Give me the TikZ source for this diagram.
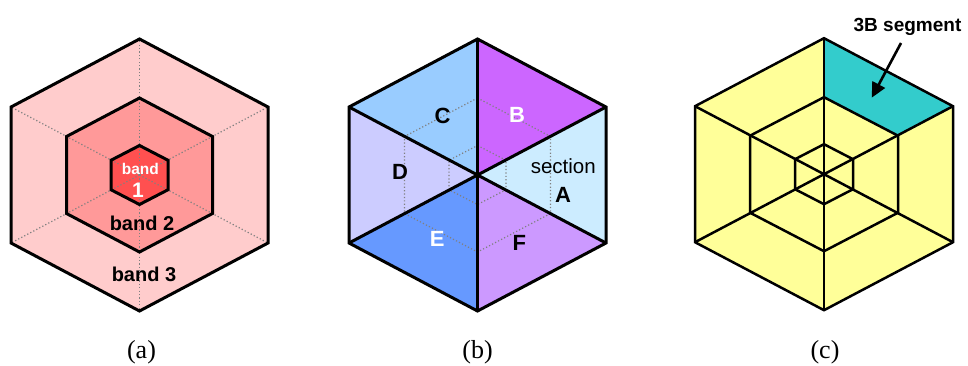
\documentclass[tikz,border=0pt]{standalone}
\usepackage{fontspec}
\setmainfont{Liberation Serif}
\setsansfont{Liberation Sans}
\usetikzlibrary{arrows.meta}
\definecolor{bandthree}{HTML}{FFCCCC}
\definecolor{bandtwo}{HTML}{FF9999}
\definecolor{bandone}{HTML}{FF5050}
\definecolor{secA}{HTML}{CCECFF}
\definecolor{secB}{HTML}{CC66FF}
\definecolor{secC}{HTML}{99CCFF}
\definecolor{secD}{HTML}{CCCCFF}
\definecolor{secE}{HTML}{6699FF}
\definecolor{secF}{HTML}{CC99FF}
\definecolor{yel}{HTML}{FFFF99}
\definecolor{teal3B}{HTML}{33CCCC}
\definecolor{dotgray}{HTML}{808080}
% name, cx, cy, R (vertical), w (horizontal half width)
\newcommand\mkhex[5]{%
  \coordinate (#1c) at (#2,#3);
  \coordinate (#1v1) at (#2,#3-#4);
  \coordinate (#1v2) at (#2+#5,#3-#4/2);
  \coordinate (#1v3) at (#2+#5,#3+#4/2);
  \coordinate (#1v4) at (#2,#3+#4);
  \coordinate (#1v5) at (#2-#5,#3+#4/2);
  \coordinate (#1v6) at (#2-#5,#3-#4/2);
}
\newcommand\hexp[1]{(#1v1) -- (#1v2) -- (#1v3) -- (#1v4) -- (#1v5) -- (#1v6) -- cycle}
\tikzset{
  hexline/.style={draw=black, line width=3pt, line join=miter},
  thinhex/.style={draw=black, line width=2.5pt, line join=miter},
  dotline/.style={draw=dotgray, line width=1.2pt, dash pattern=on 1.2pt off 2.2pt},
  lbl/.style={font=\sffamily\bfseries\fontsize{20}{20}\selectfont, anchor=base, inner sep=0pt},
  seclbl/.style={font=\sffamily\bfseries\fontsize{22}{22}\selectfont, anchor=base, inner sep=0pt},
  caplbl/.style={font=\fontsize{26}{26}\selectfont, anchor=base, inner sep=0pt},
  pointer/.style={line width=2.6pt, -{Triangle[length=15pt,width=14pt]}}
}
\begin{document}
\begin{tikzpicture}[x=1pt,y=-1pt]
\useasboundingbox (0,0) rectangle (968,365);
% ---------------- (a) ----------------
\mkhex{ao}{139.5}{175}{136}{128.5}
\mkhex{am}{139.5}{175}{77}{73}
\mkhex{ai}{139.5}{175}{29.5}{28.5}
\fill[bandthree] \hexp{ao};
\fill[bandtwo] \hexp{am};
\fill[bandone] \hexp{ai};
\foreach \i in {1,...,6} \draw[dotline] (aoc) -- (aov\i);
\draw[hexline] \hexp{ao};
\draw[hexline] \hexp{am};
\draw[hexline] \hexp{ai};
\node[lbl, white, font=\sffamily\bfseries\fontsize{15.5}{15.5}\selectfont] (band1a) at (140.3,174) {band};
\node[lbl, white, font=\sffamily\bfseries\fontsize{21}{21}\selectfont] (band1b) at (138,197.3) {1};
\node[lbl] (band2) at (142,230) {band 2};
\node[lbl] (band3) at (144,281.5) {band 3};
\node[caplbl] (capa) at (141.5,358.5) {(a)};
% ---------------- (b) ----------------
\mkhex{bo}{477.5}{175}{136}{128.5}
\mkhex{bm}{477.5}{175}{77}{73}
\mkhex{bi}{477.5}{175}{29.5}{28.5}
\fill[secB] (boc) -- (bov1) -- (bov2) -- cycle;
\fill[secA] (boc) -- (bov2) -- (bov3) -- cycle;
\fill[secF] (boc) -- (bov3) -- (bov4) -- cycle;
\fill[secE] (boc) -- (bov4) -- (bov5) -- cycle;
\fill[secD] (boc) -- (bov5) -- (bov6) -- cycle;
\fill[secC] (boc) -- (bov6) -- (bov1) -- cycle;
\draw[dotline] \hexp{bm};
\draw[dotline] \hexp{bi};
\draw[hexline] (bov1) -- (bov4);
\draw[hexline] (bov2) -- (bov5);
\draw[hexline] (bov3) -- (bov6);
\draw[hexline] \hexp{bo};
\node[seclbl] (secClbl) at (442.5,123.3) {C};
\node[seclbl, white] (secBlbl) at (517,122.3) {B};
\node[seclbl] (secDlbl) at (400,179.5) {D};
\node[lbl, font=\sffamily\fontsize{20.5}{20.5}\selectfont] (sectionlbl) at (563.3,173.3) {section};
\node[seclbl] (secAlbl) at (563,202.3) {A};
\node[seclbl, white] (secElbl) at (437.3,246.7) {E};
\node[seclbl] (secFlbl) at (519.3,250) {F};
\node[caplbl] (capb) at (477.5,358.5) {(b)};
% ---------------- (c) ----------------
\mkhex{co}{824}{174.2}{136}{129}
\mkhex{cm}{824}{174.2}{77}{74}
\mkhex{ci}{824}{174.2}{30}{29}
\fill[yel] \hexp{co};
\fill[teal3B] (cov1) -- (cov2) -- (cmv2) -- (cmv1) -- cycle;
\draw[thinhex] (cov1) -- (cov4);
\draw[thinhex] (cov2) -- (cov5);
\draw[thinhex] (cov3) -- (cov6);
\draw[thinhex] \hexp{cm};
\draw[thinhex] \hexp{ci};
\draw[thinhex] \hexp{co};
\node[lbl, font=\sffamily\bfseries\fontsize{19}{19}\selectfont] (seglbl) at (907.5,31.7) {3B segment};
\coordinate (arrtail) at (901,43);
\coordinate (arrtip) at (871.7,97.7);
\draw[pointer] (arrtail) -- (arrtip);
\node[caplbl] (capc) at (825,358.5) {(c)};
\end{tikzpicture}
\end{document}
